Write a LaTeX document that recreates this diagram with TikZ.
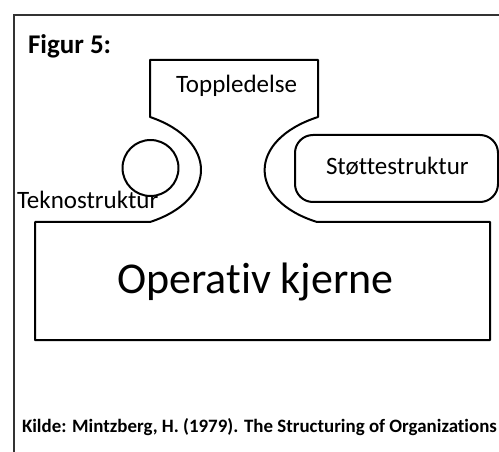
\documentclass[tikz,border=0pt]{standalone}
\usepackage{fontspec}
\setmainfont{Carlito}[Ligatures={NoCommon}]
\begin{document}
\begin{tikzpicture}[x=1pt,y=-1pt,
  shapeline/.style={draw=black,line width=2pt,line join=round},
  framel/.style={draw=black!80,line width=1.3pt},
  lbl/.style={anchor=base west,inner sep=0pt,outer sep=0pt},
]
\useasboundingbox (0,0) rectangle (499,452);
\clip (0,0) rectangle (499,452);
% outer frame
\coordinate (fa) at (14,452);
\coordinate (fb) at (14,15);
\coordinate (fc) at (500,15);
\draw[framel] (fa) -- (fb) -- (fc);
% main outline
\draw[shapeline] (150,60) -- (318,60) -- (318,117)
  .. controls (247,140) and (247,200) .. (317,222)
  -- (490,222) -- (490,340) -- (35,340) -- (35,222) -- (150,222)
  .. controls (218,200) and (218,140) .. (150,117) -- cycle;
% circle
\node[shapeline,circle,minimum size=56pt,inner sep=0pt] (tek) at (150.5,168) {};
% support box
\node[shapeline,rounded corners=18pt,minimum width=203pt,minimum height=67pt,inner sep=0pt] (st) at (396.5,168.5) {};
% texts
\node[lbl,font=\fontsize{27}{27}\selectfont\bfseries] (fig) at (28,54) {Figur 5:};
\node[lbl,font=\fontsize{25}{25}\selectfont] (top) at (176,93) {Toppledelse};
\node[lbl,font=\fontsize{25}{25}\selectfont] (tekl) at (17,208) {Teknostruktur};
\node[lbl,font=\fontsize{25}{25}\selectfont] (stl) at (326,175) {Støttestruktur};
\node[lbl,font=\fontsize{44}{44}\selectfont] (op) at (117,294) {Operativ kjerne};
\node[lbl,font=\fontsize{18.9}{19}\selectfont\bfseries] (kilde) at (22,432) {Kilde: Mintzberg, H. (1979). The Structuring of Organizations};
\end{tikzpicture}
\end{document}
